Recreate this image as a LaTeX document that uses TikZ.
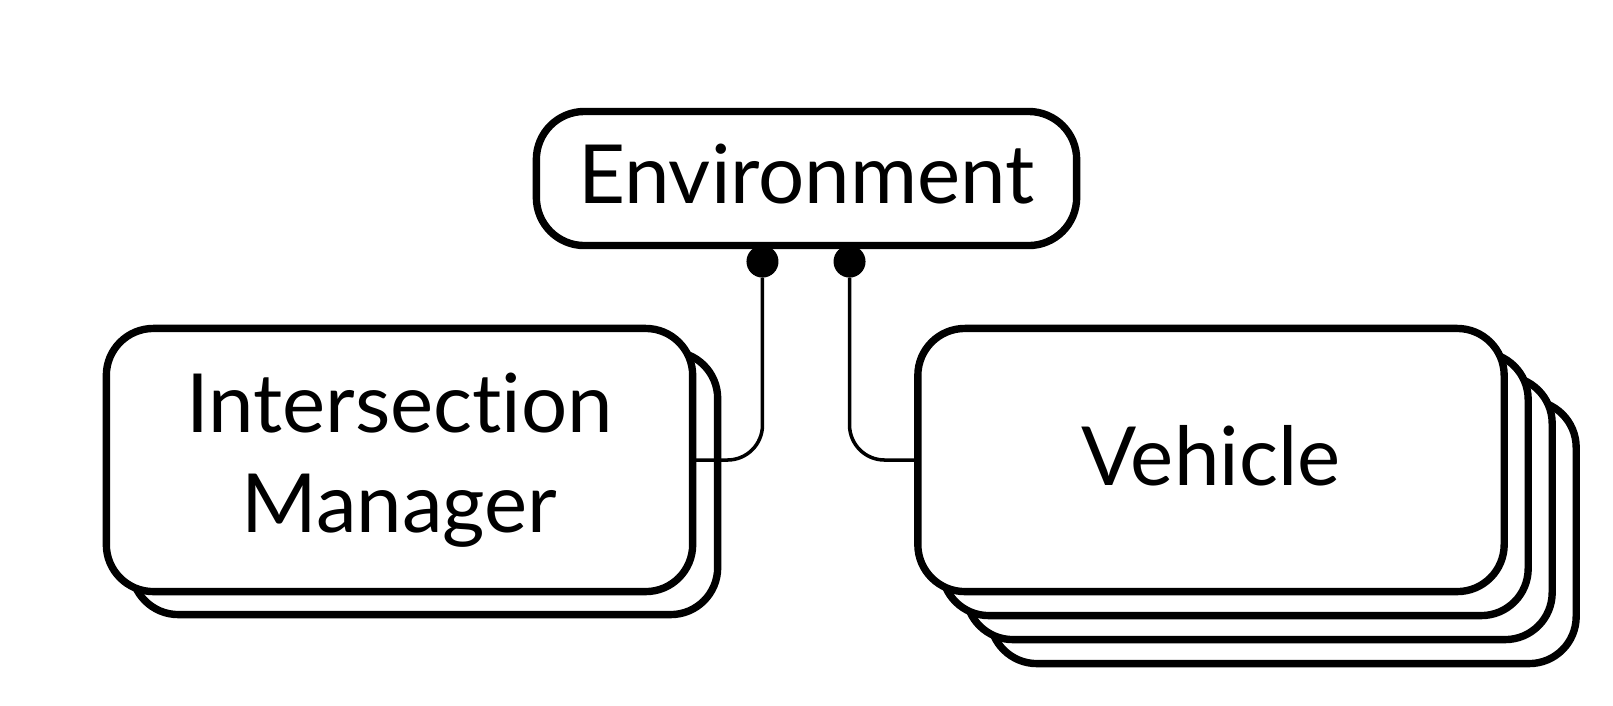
\documentclass[tikz,border=0pt]{standalone}
\usepackage{fontspec}
\setmainfont{Lato}[Ligatures=NoCommon]
\usetikzlibrary{positioning}

\begin{document}
\begin{tikzpicture}[
  x=0.01cm, y=-0.01cm,
  font=\fontsize{23.2pt}{28.5pt}\selectfont,
  cardBox/.style={draw=black, fill=white, line width=2.1pt, rounded corners=0.47cm, minimum width=5.86cm, minimum height=2.63cm, inner sep=0pt, outer sep=0pt, align=center},
  envBox/.style={cardBox, rounded corners=0.48cm, minimum width=5.4cm, minimum height=1.34cm},
  dotMark/.style={circle, fill=black, minimum size=0.32cm, inner sep=0pt, outer sep=0pt},
  link/.style={line width=1pt, rounded corners=0.35cm}
]
\useasboundingbox (0,0) rectangle (1613,705);

\node[envBox, text depth=0.1cm] (env) at (806.5,178.5) {Environment};

% stacked copies behind the front boxes
\node[cardBox] (imBack) at (424.5,483) {};
\node[cardBox] (im) at (399.5,460) {Intersection\\Manager};

\foreach \k in {3,2,1}
  \node[cardBox] (veh\k) at (1211+24*\k,460+24*\k) {};
\node[cardBox, text depth=0.1cm] (veh) at (1211,460) {Vehicle};

\node[dotMark, anchor=north] (dotL) at ([xshift=-0.44cm]env.south) {};
\node[dotMark, anchor=north] (dotR) at ([xshift=0.43cm]env.south) {};

\draw[link] (dotL.south) |- (im.east);
\draw[link] (dotR.south) |- (veh.west);
\end{tikzpicture}
\end{document}
